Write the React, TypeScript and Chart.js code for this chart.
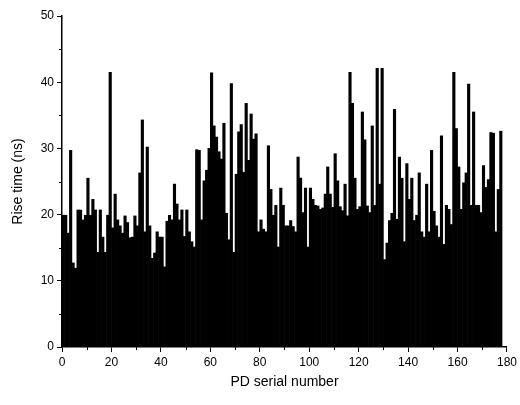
import React, { useEffect, useRef } from "react";
import { Chart, registerables } from "chart.js";
Chart.register(...registerables);

const riseTimes: number[] = [
  19.9, 19.9, 17.2, 29.7, 12.7, 11.9, 20.7, 20.7, 19.2, 19.9,
  25.5, 19.9, 22.3, 20.7, 14.3, 20.7, 16.6, 14.3, 19.9, 41.5,
  18.0, 23.1, 19.2, 18.3, 17.2, 19.8, 18.8, 16.5, 16.6, 19.8,
  18.3, 26.3, 34.3, 17.4, 30.2, 18.3, 13.4, 14.2, 17.4, 16.6,
  16.6, 12.1, 19.0, 19.9, 19.2, 24.6, 21.6, 19.2, 20.7, 16.7,
  20.7, 17.4, 15.9, 15.1, 29.8, 29.7, 19.2, 25.1, 26.7, 30.0,
  41.4, 33.4, 31.7, 29.5, 28.4, 33.8, 20.2, 16.2, 39.8, 14.3,
  26.1, 32.5, 33.6, 26.4, 36.8, 28.2, 35.2, 31.4, 32.2, 17.4,
  19.2, 17.8, 17.4, 30.4, 23.8, 19.9, 21.4, 15.1, 24.0, 21.4,
  18.3, 18.3, 19.1, 18.2, 17.4, 28.7, 25.5, 20.3, 24.0, 15.1,
  24.0, 22.3, 21.4, 21.3, 20.8, 21.0, 23.1, 27.2, 23.1, 21.1,
  29.2, 25.1, 21.2, 20.6, 24.6, 19.8, 41.5, 36.8, 25.5, 20.8,
  21.2, 35.5, 31.3, 21.3, 20.3, 33.4, 21.4, 42.1, 24.6, 42.1,
  13.2, 15.7, 19.1, 20.2, 35.9, 19.3, 28.7, 25.5, 15.9, 27.7,
  22.3, 25.5, 19.1, 19.9, 26.3, 17.4, 16.6, 24.6, 17.4, 29.7,
  20.5, 18.3, 16.6, 31.9, 15.5, 21.4, 20.8, 18.5, 41.5, 33.0,
  27.2, 20.8, 24.8, 26.3, 39.7, 21.4, 35.5, 21.4, 21.4, 20.3,
  27.4, 24.1, 25.3, 32.4, 32.3, 17.4, 23.8, 32.6,
];
const serialNumbers: number[] = riseTimes.map((_, i) => i + 0.5);
const xTicks = [0, 20, 40, 60, 80, 100, 120, 140, 160, 180];
const yTicks = [0, 10, 20, 30, 40, 50];

const minorTicks = {
  id: "minorTicks",
  afterDraw(chart: any) {
    const { ctx, scales } = chart;
    const x = scales.x, y = scales.y;
    ctx.save();
    ctx.strokeStyle = "#000";
    ctx.lineWidth = 1;
    ctx.beginPath();
    for (let v = 10; v < 180; v += 20) {
      const px = Math.round(x.getPixelForValue(v)) + 0.5;
      ctx.moveTo(px, y.bottom);
      ctx.lineTo(px, y.bottom + 3);
    }
    for (let v = 5; v < 50; v += 10) {
      const py = Math.round(y.getPixelForValue(v)) + 0.5;
      ctx.moveTo(x.left, py);
      ctx.lineTo(x.left - 3, py);
    }
    ctx.stroke();
    ctx.restore();
  },
};

export default function App() {
  const ref = useRef<HTMLCanvasElement>(null);
  useEffect(() => {
    document.body.style.margin = "0";
    const chart = new Chart(ref.current!, {
      type: "bar",
      data: {
        datasets: [
          {
            data: serialNumbers.map((x, i) => ({ x, y: riseTimes[i] })),
            backgroundColor: "#000",
            borderWidth: 0,
            barPercentage: 1,
            categoryPercentage: 1,
          },
        ],
      },
      options: {
        responsive: false,
        animation: false,
        layout: { padding: { top: 16, right: 5, left: 6, bottom: 10 } },
        plugins: { legend: { display: false }, tooltip: { enabled: false } },
        scales: {
          x: {
            type: "linear",
            offset: false,
            min: 0,
            max: 180,
            afterBuildTicks: (s: any) => { s.ticks = xTicks.map((v) => ({ value: v })); },
            afterFit: (s: any) => { s.height = 48; },
            grid: { offset: false, drawOnChartArea: false, color: "#000", tickLength: 5, tickColor: "#000" },
            border: { color: "#000", width: 1.5 },
            ticks: { color: "#000", font: { family: "Liberation Sans", size: 12 }, maxRotation: 0 },
            title: { display: true, text: "PD serial number", color: "#000", font: { family: "Liberation Sans", size: 14 }, padding: { top: 4 } },
          },
          y: {
            min: 0,
            max: 50,
            afterBuildTicks: (s: any) => { s.ticks = yTicks.map((v) => ({ value: v })); },
            afterFit: (s: any) => { s.width = 56; },
            grid: { drawOnChartArea: false, color: "#000", tickLength: 5, tickColor: "#000" },
            border: { color: "#000", width: 1.5 },
            ticks: { color: "#000", font: { family: "Liberation Sans", size: 12 } },
            title: { display: true, text: "Rise time (ns)", color: "#000", font: { family: "Liberation Sans", size: 14 } },
          },
        },
      },
      plugins: [minorTicks],
    } as any);
    return () => chart.destroy();
  }, []);
  return <canvas ref={ref} width={520} height={405} />;
}
